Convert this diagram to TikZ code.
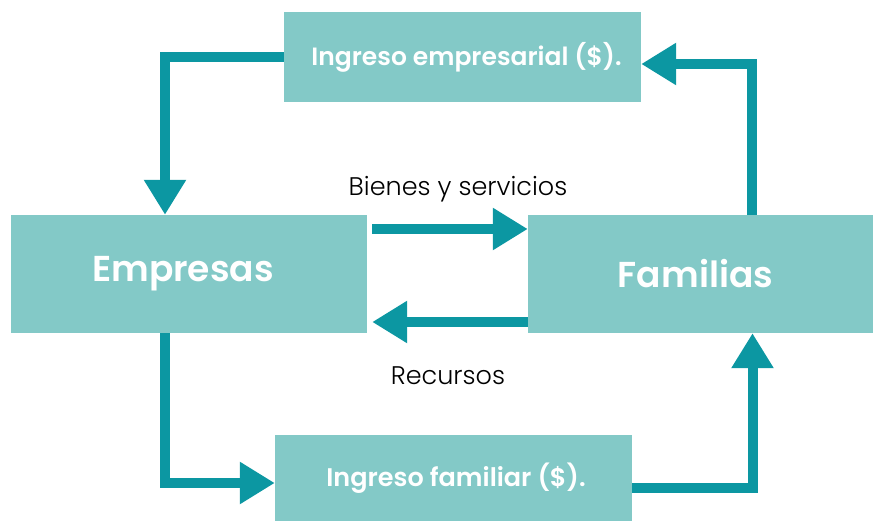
\documentclass[tikz,border=0pt]{standalone}
\usepackage{fontspec}
\setmainfont{Poppins}[BoldFont={Poppins SemiBold}]
\newfontfamily\thinfont{Poppins Light}
\usetikzlibrary{arrows.meta, positioning}
\definecolor{boxfill}{HTML}{83C9C7}
\definecolor{flowcol}{HTML}{0C97A2}
\tikzset{
  box/.style={rectangle, fill=boxfill, text=white, inner sep=0pt},
  flow/.style={line width=10pt, draw=flowcol, -{Triangle[length=35pt, width=40pt]}},
  lbl/.style={font=\thinfont\fontsize{25.5}{28}\selectfont, text=black}
}

\begin{document}
\begin{tikzpicture}[x=1pt, y=-1pt]
\useasboundingbox (0,0) rectangle (873,521);
% boxes
\node (ingEmp) [box, minimum width=357pt, minimum height=90pt, font=\bfseries\fontsize{25}{28}\selectfont] at (462.5,57) {\hspace*{8pt}Ingreso empresarial (\$).};
\node (empresas) [box, minimum width=356pt, minimum height=118pt, font=\bfseries\fontsize{36}{42}\selectfont] at (189,274) {Empresas\hspace*{12pt}};
\node (familias) [box, minimum width=345pt, minimum height=118pt, font=\bfseries\fontsize{36}{42}\selectfont] at (700.5,274) {Familias\hspace*{10pt}};
\node (ingFam) [box, minimum width=357pt, minimum height=86pt, font=\bfseries\fontsize{25.5}{28}\selectfont] at (453.5,478) {\hspace*{5pt}Ingreso familiar (\$).};
% outer loop
\draw [flow] (ingEmp.west) -| ([xshift=-24pt]empresas.north);
\draw [flow] ([xshift=51pt]familias.north) |- ([yshift=-7pt]ingEmp.east);
\draw [flow] ([xshift=-24pt]empresas.south) |- ([yshift=-5pt]ingFam.west);
\draw [flow] ([yshift=-10pt]ingFam.east) -| ([xshift=52pt]familias.south);
% inner arrows
\draw [flow] ([xshift=5pt, yshift=45pt]empresas.east) -- ([yshift=45pt]familias.west)
  node (bienes) [lbl, midway, above=19pt, xshift=8pt] {Bienes y servicios};
\draw [flow] ([yshift=-48pt]familias.west) -- ([xshift=5pt, yshift=-48pt]empresas.east)
  node (recursos) [lbl, midway, below=36pt, xshift=-2pt] {Recursos};
\end{tikzpicture}
\end{document}
